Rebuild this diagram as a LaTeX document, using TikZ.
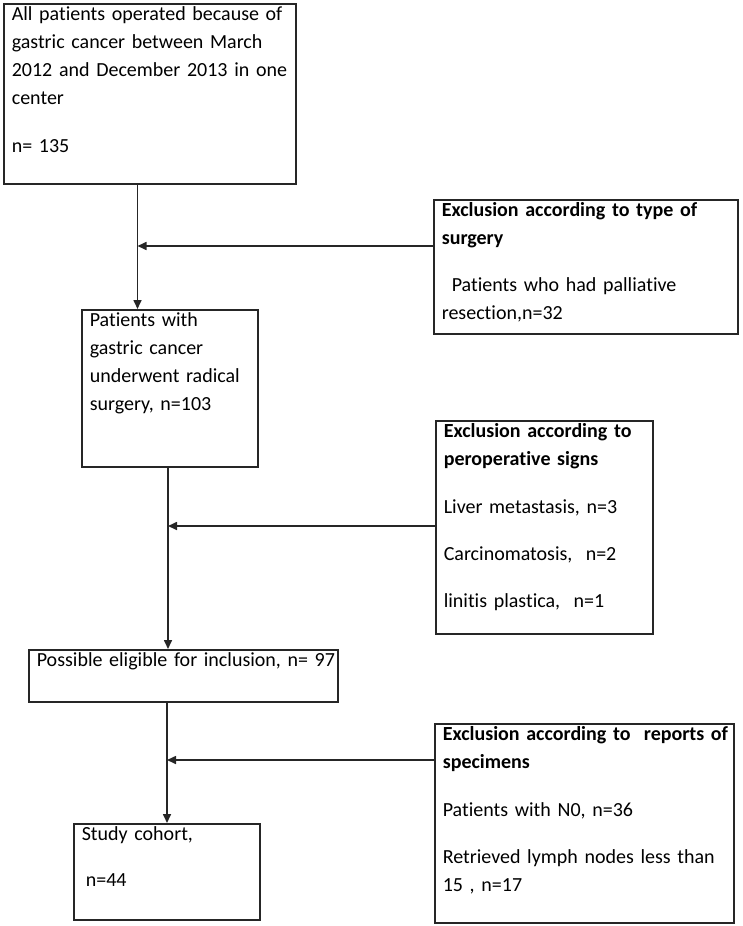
\documentclass[tikz,border=0pt]{standalone}
\usepackage{fontspec}
\setmainfont[Ligatures=NoCommon,WordSpace=0.85]{Carlito}
\usetikzlibrary{arrows.meta}

\begin{document}
\begin{tikzpicture}[x=1pt,y=-1pt,>={Triangle[length=9pt,width=8pt]}]

    % Define styles
    \tikzstyle{box} = [rectangle, draw=black!85, line width=1.6pt, anchor=north west, align=left, inner xsep=8pt, inner ysep=5pt, text height=12pt, font=\fontsize{20pt}{28pt}\selectfont]
    \tikzstyle{flow} = [->, draw=black!85, line width=1.6pt]

    \useasboundingbox (0,0) rectangle (742,926);

    % Main boxes
    \node[box, text width=276pt, text depth=158pt] (allpat) at (3,3) {All patients operated because of\\gastric cancer between March\\2012 and December 2013 in one\\center\\[20pt]n= 135};
    \node[box, text width=160pt, text depth=135pt] (radical) at (81,309) {Patients with\\gastric cancer\\underwent radical\\surgery, n=103};
    \node[box, text width=293pt, text depth=30pt] (eligible) at (28,649) {\mbox{Possible eligible for inclusion, n= 97}};
    \node[box, text width=170pt, text depth=74pt] (cohort) at (73,823) {Study cohort,\\[18pt]\hspace*{0.2em}n=44};

    % Exclusion boxes
    \node[box, text width=288pt, text depth=112pt] (exsurg) at (433,199) {\textbf{Exclusion according to type of}\\\textbf{surgery}\\[19pt]\hspace*{0.5em}Patients who had palliative\\resection,n=32};
    \node[box, text width=201pt, text depth=191pt] (experop) at (435,420) {\textbf{Exclusion according to}\\\textbf{peroperative signs}\\[20pt]Liver metastasis, n=3\\[19pt]Carcinomatosis,\ \ n=2\\[19pt]linitis plastica,\ \ n=1};
    \node[box, text width=283pt, text depth=177pt] (exspec) at (434,723) {\mbox{\textbf{Exclusion according to\ \ reports of}}\\\textbf{specimens}\\[20pt]Patients with N0, n=36\\[19pt]Retrieved lymph nodes less than\\15 , n=17};

    % Junctions on the main line
    \coordinate (j1) at (137.5,246);
    \coordinate (j2) at (168,526);
    \coordinate (j3) at (167,760);

    % Flows
    \draw[flow] (allpat.south -| j1) -- (radical.north -| j1);
    \draw[flow] (exsurg.west |- j1) -- (j1);

    \draw[flow] (radical.south -| j2) -- (eligible.north -| j2);
    \draw[flow] (experop.west |- j2) -- (j2);

    \draw[flow] (eligible.south -| j3) -- (cohort.north -| j3);
    \draw[flow] (exspec.west |- j3) -- (j3);

\end{tikzpicture}
\end{document}
